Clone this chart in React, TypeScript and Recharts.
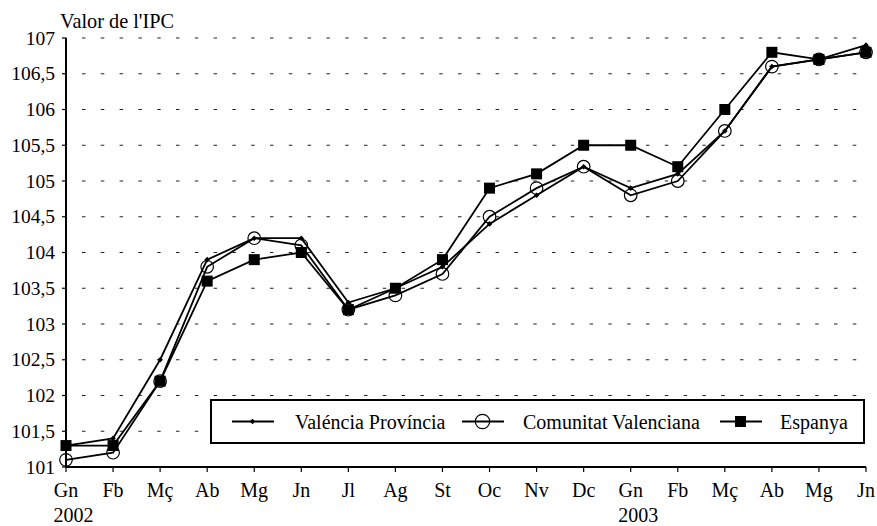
import React from 'react';
import { LineChart, Line, XAxis, YAxis, CartesianGrid } from 'recharts';

const months = ['Gn', 'Fb', 'Mç', 'Ab', 'Mg', 'Jn', 'Jl', 'Ag', 'St', 'Oc', 'Nv', 'Dc', 'Gn', 'Fb', 'Mç', 'Ab', 'Mg', 'Jn'];
const years = ['2002', '', '', '', '', '', '', '', '', '', '', '', '2003', '', '', '', '', ''];
const valenciaProvincia = [101.3, 101.4, 102.5, 103.9, 104.2, 104.2, 103.3, 103.5, 103.8, 104.4, 104.8, 105.2, 104.9, 105.1, 105.7, 106.6, 106.7, 106.9];
const comunitatValenciana = [101.1, 101.2, 102.2, 103.8, 104.2, 104.1, 103.2, 103.4, 103.7, 104.5, 104.9, 105.2, 104.8, 105.0, 105.7, 106.6, 106.7, 106.8];
const espanya = [101.3, 101.3, 102.2, 103.6, 103.9, 104.0, 103.2, 103.5, 103.9, 104.9, 105.1, 105.5, 105.5, 105.2, 106.0, 106.8, 106.7, 106.8];
const yTicks = [101, 101.5, 102, 102.5, 103, 103.5, 104, 104.5, 105, 105.5, 106, 106.5, 107];
const seriesNames = ['Valéncia Província', 'Comunitat Valenciana', 'Espanya'];
const yTitle = "Valor de l'IPC";

const data = months.map((m, i) => ({
  key: String(i),
  vp: valenciaProvincia[i],
  cv: comunitatValenciana[i],
  es: espanya[i],
}));

const FONT = '"Liberation Serif", "Times New Roman", serif';

const DiamondDot = (props: any) => {
  const { cx, cy } = props;
  if (cx == null || cy == null) return null;
  const s = 2.8;
  return <path d={`M${cx},${cy - s} L${cx + s},${cy} L${cx},${cy + s} L${cx - s},${cy} Z`} fill="#000" />;
};
const CircleDot = (props: any) => {
  const { cx, cy, r } = props;
  if (cx == null || cy == null) return null;
  return <circle cx={cx} cy={cy} r={r && r > 6.5 ? r : 6.3} fill="none" stroke="#000" strokeWidth={1.2} />;
};
const SquareDot = (props: any) => {
  const { cx, cy } = props;
  if (cx == null || cy == null) return null;
  return <rect x={cx - 5.5} y={cy - 5.5} width={11} height={11} fill="#000" />;
};

const XTick = (props: any) => {
  const { x, y, payload } = props;
  const i = Number(payload.value);
  return (
    <g>
      <text x={x} y={y + 23} textAnchor="middle" fontSize={20} fontFamily={FONT} fill="#000">
        {months[i]}
      </text>
      {years[i] ? (
        <text x={x - 12.5} y={y + 47.5} textAnchor="start" fontSize={20} fontFamily={FONT} fill="#000">
          {years[i]}
        </text>
      ) : null}
    </g>
  );
};

const fmtY = (v: number) => String(v).replace('.', ',');

const YTick = (props: any) => {
  const { x, y, payload } = props;
  return (
    <text x={x} y={y + 6.5} textAnchor="end" fontSize={19.5} fontFamily={FONT} fill="#000">
      {fmtY(payload.value)}
    </text>
  );
};

const LegendBox = ({ left, top }: { left: number; top: number }) => {
  const items = [
    { lx: 22, tx: 85, sym: 'd' },
    { lx: 252, tx: 313, sym: 'c' },
    { lx: 510, tx: 570, sym: 's' },
  ];
  return (
    <g transform={`translate(${left},${top})`}>
      <rect x={1} y={1} width={653} height={43} fill="#fff" stroke="#000" strokeWidth={2} />
      {items.map((it, k) => {
        const mx = it.lx + 20.5;
        const my = 22.5;
        return (
          <g key={k}>
            <line x1={it.lx} x2={it.lx + 42} y1={my} y2={my} stroke="#000" strokeWidth={1.8} />
            {it.sym === 'd' && <DiamondDot cx={mx} cy={my} />}
            {it.sym === 'c' && <CircleDot cx={mx} cy={my} r={7.2} />}
            {it.sym === 's' && <SquareDot cx={mx} cy={my} />}
            <text x={it.tx} y={my + 7.5} fontSize={20} fontFamily={FONT} fill="#000">
              {seriesNames[k]}
            </text>
          </g>
        );
      })}
    </g>
  );
};

export default function App() {
  return (
    <div style={{ position: 'absolute', left: 0, top: 0, width: 877, height: 526, background: '#fff', fontFamily: FONT }}>
      <LineChart
        width={877}
        height={526}
        data={data}
        margin={{ top: 38, right: 11, bottom: 9, left: 0 }}
        style={{ fontFamily: FONT }}
      >
        <text x={60} y={28} fontSize={20.3} fontFamily={FONT} fill="#000">
          {yTitle}
        </text>
        <CartesianGrid
          horizontal={true}
          vertical={false}
          stroke="#222"
          strokeWidth={1}
          strokeDasharray="3.5 15.3"
          strokeDashoffset={2.8}
        />
        <XAxis
          dataKey="key"
          scale="point"
          padding={{ left: 0, right: 0 }}
          height={50}
          tick={<XTick />}
          tickSize={5}
          axisLine={{ stroke: '#000', strokeWidth: 2 }}
          tickLine={{ stroke: '#000', strokeWidth: 1.2 }}
          interval={0}
        />
        <YAxis
          width={66}
          domain={[101, 107]}
          ticks={yTicks}
          type="number"
          allowDataOverflow
          tickSize={4}
          tickMargin={7}
          axisLine={{ stroke: '#000', strokeWidth: 2 }}
          tickLine={{ stroke: '#000', strokeWidth: 1.2 }}
          tick={<YTick />}
          interval={0}
        />
        <Line dataKey="vp" name={seriesNames[0]} stroke="#000" strokeWidth={1.8} dot={<DiamondDot />} activeDot={false} isAnimationActive={false} />
        <Line dataKey="cv" name={seriesNames[1]} stroke="#000" strokeWidth={1.8} dot={<CircleDot />} activeDot={false} isAnimationActive={false} />
        <Line dataKey="es" name={seriesNames[2]} stroke="#000" strokeWidth={1.8} dot={<SquareDot />} activeDot={false} isAnimationActive={false} />
        <LegendBox left={210} top={399} />
      </LineChart>
    </div>
  );
}
